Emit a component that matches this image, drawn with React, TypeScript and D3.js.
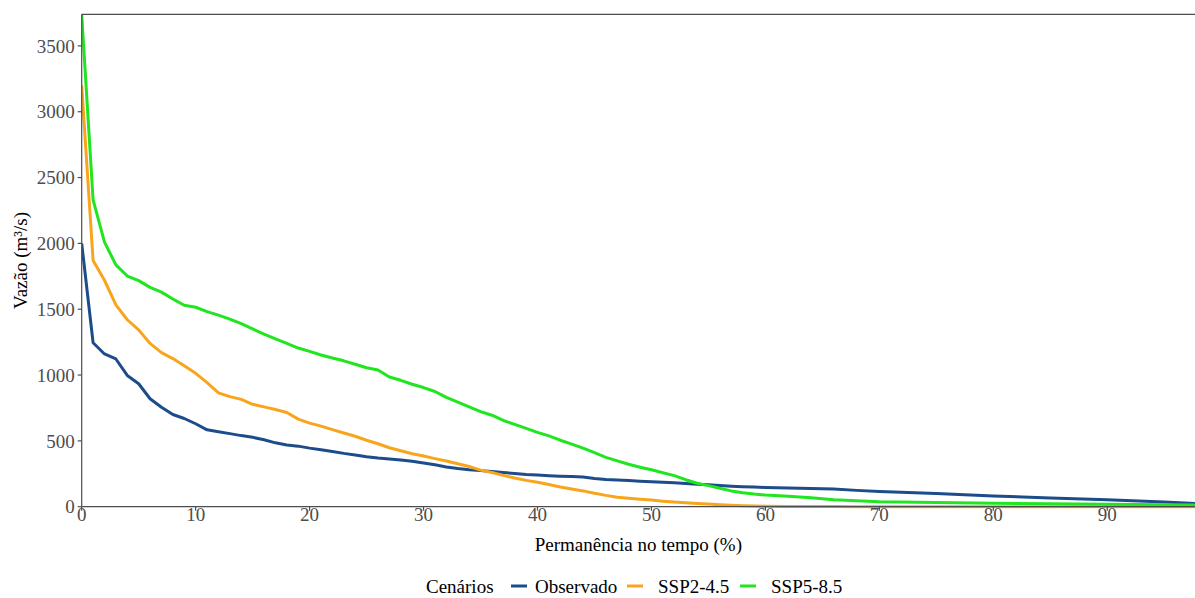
import React from "react";
import * as d3 from "d3";

// Permanência no tempo (%) — shared abscissa for every scenario
const permanencia = [
  0, 1, 2, 3, 4, 5, 6, 7, 8, 9, 10, 11, 12, 13, 14, 15, 16, 17, 18, 19, 20,
  21, 22, 23, 24, 25, 26, 27, 28, 29, 30, 31, 32, 33, 34, 35, 36, 37, 38, 39, 40,
  41, 42, 43, 44, 45, 46, 47, 48, 49, 50, 51, 52, 53, 54, 55, 56, 57, 58, 59, 60,
  62, 64, 66, 68, 70, 75, 80, 85, 90, 95, 97.7,
];

// Vazão (m³/s)
const observado = [
  2000, 1245, 1160, 1122, 997, 934, 820, 755, 700, 670, 630, 584, 570, 555, 540, 527, 508, 485, 468, 460, 445,
  432, 420, 405, 392, 380, 370, 362, 355, 345, 332, 318, 302, 290, 280, 274, 268, 260, 252, 245, 240,
  236, 232, 229, 225, 215, 207, 203, 199, 194, 190, 186, 181, 176, 171, 166, 161, 156, 152, 149, 146,
  142, 138, 134, 124, 116, 100, 82, 67, 52, 36, 24,
];

const ssp245 = [
  3200, 1870, 1720, 1533, 1420, 1343, 1240, 1170, 1125, 1070, 1013, 942, 865, 836, 815, 778, 758, 738, 715, 665, 635,
  612, 585, 560, 535, 505, 478, 448, 425, 402, 385, 365, 347, 326, 305, 278, 260, 238, 218, 200, 185,
  168, 150, 135, 120, 102, 86, 72, 64, 57, 50, 42, 35, 30, 25, 20, 15, 11, 8, 6, 4,
  2, 1, 1, 0, 0, 0, 0, 0, 0, 0, 0,
];

const ssp585 = [
  3740, 2330, 2010, 1837, 1752, 1717, 1666, 1630, 1578, 1530, 1515, 1482, 1455, 1425, 1390, 1350, 1310, 1275, 1240, 1205, 1180,
  1152, 1130, 1108, 1082, 1055, 1038, 985, 960, 930, 905, 875, 830, 795, 758, 722, 695, 655, 625, 595, 565,
  538, 505, 475, 445, 410, 375, 348, 322, 300, 280, 258, 236, 205, 178, 160, 140, 120, 106, 96, 88,
  80, 68, 52, 45, 38, 32, 26, 22, 18, 14, 12,
];

const cenarios = ["Observado", "SSP2-4.5", "SSP5-8.5"];
const coresCenarios = ["#1d4c8a", "#f8a51c", "#1fe61f"];
const seriesValores = [observado, ssp245, ssp585];

const xTicks = [0, 10, 20, 30, 40, 50, 60, 70, 80, 90];
const yTicks = [0, 500, 1000, 1500, 2000, 2500, 3000, 3500];

const W = 1195;
const H = 598;
const M = { left: 81.7, right: 0, top: 14.3, bottom: 91.3 };
const FONT = "'Liberation Serif', 'Times New Roman', serif";
const AXIS = "#4d4d4d";

export default function App() {
  const x = d3.scaleLinear().domain([0, 97.7]).range([M.left, W - M.right]);
  const y = d3.scaleLinear().domain([0, 3740]).range([H - M.bottom, M.top]);

  const line = d3
    .line<number>()
    .x((_, i) => x(permanencia[i]))
    .y((v) => y(v));

  const x0 = x.range()[0];
  const x1 = x.range()[1];
  const yB = y.range()[0];
  const yT = y.range()[1];

  // legend layout: title then key+label pairs
  const legendY = 586;
  const legendItems = [
    { key: 511, text: 535 },
    { key: 627, text: 658 },
    { key: 740, text: 771 },
  ];

  return (
    <svg
      width={W}
      height={H}
      style={{ position: "fixed", left: 0, top: 0, display: "block", background: "#fff" }}
    >
      <rect x={0} y={0} width={W} height={H} fill="#fff" />

      <defs>
        <clipPath id="panel">
          <rect x={x0} y={yT - 2} width={x1 - x0} height={yB - yT + 4} />
        </clipPath>
      </defs>

      {/* series */}
      <g clipPath="url(#panel)">
        {seriesValores.map((vals, k) => (
          <path
            key={cenarios[k]}
            d={line(vals) ?? ""}
            fill="none"
            stroke={coresCenarios[k]}
            strokeWidth={3}
            strokeLinejoin="round"
            strokeLinecap="butt"
          />
        ))}
      </g>

      {/* panel frame: top border, left and bottom axis lines */}
      <line x1={x0} x2={x1} y1={yT} y2={yT} stroke={AXIS} strokeWidth={1.2} />
      <line x1={x0} x2={x0} y1={yT} y2={yB} stroke={AXIS} strokeWidth={1.2} />
      <line x1={x0} x2={x1} y1={yB} y2={yB} stroke={AXIS} strokeWidth={1.2} />

      {/* y axis */}
      {yTicks.map((t) => (
        <g key={`y${t}`}>
          <line x1={x0 - 4} x2={x0} y1={y(t)} y2={y(t)} stroke={AXIS} strokeWidth={1.2} />
          <text
            x={x0 - 7}
            y={y(t)}
            dy="0.35em"
            textAnchor="end"
            fontFamily={FONT}
            fontSize={19}
            fill={AXIS}
          >
            {t}
          </text>
        </g>
      ))}

      {/* x axis */}
      {xTicks.map((t) => (
        <g key={`x${t}`}>
          <line x1={x(t)} x2={x(t)} y1={yB} y2={yB + 4} stroke={AXIS} strokeWidth={1.2} />
          <text
            x={x(t)}
            y={yB + 14}
            textAnchor="middle"
            fontFamily={FONT}
            fontSize={19}
            fill={AXIS}
          >
            {t}
          </text>
        </g>
      ))}

      {/* axis titles */}
      <text
        x={(x0 + x1) / 2}
        y={551}
        textAnchor="middle"
        fontFamily={FONT}
        fontSize={19}
        fill="#000"
      >
        Permanência no tempo (%)
      </text>
      <text
        transform={`translate(27, ${(yT + yB) / 2}) rotate(-90)`}
        textAnchor="middle"
        fontFamily={FONT}
        fontSize={19}
        fill="#000"
      >
        Vazão (m³/s)
      </text>

      {/* legend */}
      <text x={426} y={legendY} dy="0.35em" fontFamily={FONT} fontSize={19} fill="#000">
        Cenários
      </text>
      {cenarios.map((c, k) => (
        <g key={`leg${c}`}>
          <line
            x1={legendItems[k].key}
            x2={legendItems[k].key + 16}
            y1={legendY}
            y2={legendY}
            stroke={coresCenarios[k]}
            strokeWidth={3}
          />
          <text
            x={legendItems[k].text}
            y={legendY}
            dy="0.35em"
            fontFamily={FONT}
            fontSize={19}
            fill="#000"
          >
            {c}
          </text>
        </g>
      ))}
    </svg>
  );
}
